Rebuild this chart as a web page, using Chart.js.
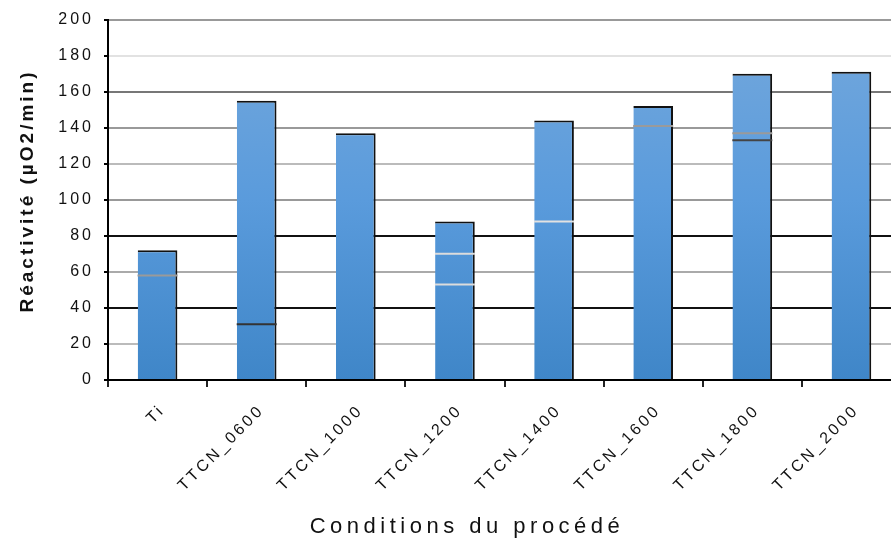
<!DOCTYPE html>
<html lang="fr">
<head>
<meta charset="utf-8">
<title>Réactivité</title>
<script src="https://cdn.jsdelivr.net/npm/chart.js@4/dist/chart.umd.min.js"></script>
<style>
    html, body { margin: 0; padding: 0; background: #fff; overflow: hidden; }
    canvas { display: block; }
</style>
</head>
<body>
<canvas id="reactChart" width="901" height="542"></canvas>
<script>
const categories = ["Ti", "TTCN_0600", "TTCN_1000", "TTCN_1200", "TTCN_1400", "TTCN_1600", "TTCN_1800", "TTCN_2000"];
const reactivite = [72, 155, 137, 88, 144, 152, 170, 171];
// petits traits horizontaux visibles dans les barres
const marksA = [58, 31, null, 70, 88, 141, 137, null];
const marksB = [null, null, null, 53, null, null, 133, null];
const yTicks = [0, 20, 40, 60, 80, 100, 120, 140, 160, 180, 200];
const xTitle = 'Conditions du procédé';
const yTitle = 'Réactivité (µO2/min)';

const gridColors = ['#000', '#bbb', '#111', '#aaa', '#111', '#999', '#bbb', '#999', '#777', '#e2e2e2', '#999'];
const marksAColors = ['#9a9a9a', '#333', '#9a9a9a', '#dcdcdc', '#e2e2e2', '#9a9a9a', '#9a9a9a', '#9a9a9a'];
const marksBColors = ['#9a9a9a', '#9a9a9a', '#9a9a9a', '#dcdcdc', '#9a9a9a', '#9a9a9a', '#444', '#9a9a9a'];

const FONT = "'Liberation Sans', Arial, sans-serif";

function barGradient(ctx) {
    const area = ctx.chart.chartArea;
    if (!area) return '#4a8fd0';
    const g = ctx.chart.ctx.createLinearGradient(0, area.top, 0, area.bottom);
    g.addColorStop(0, '#74a8dc');
    g.addColorStop(0.5, '#5a9bdc');
    g.addColorStop(1, '#3f86c8');
    return g;
}

// espacement des lettres + titres des axes (placés comme dans l'original)
const textStyle = {
    id: 'textStyle',
    beforeDraw(chart) { chart.ctx.letterSpacing = '3px'; },
    afterDraw(chart) {
        const ctx = chart.ctx;
        ctx.save();
        ctx.fillStyle = '#111';
        ctx.textAlign = 'center';
        ctx.textBaseline = 'middle';
        ctx.letterSpacing = '4.5px';
        ctx.font = '22px ' + FONT;
        ctx.fillText(xTitle, 467, 527);
        ctx.letterSpacing = '3px';
        ctx.font = 'bold 19px ' + FONT;
        ctx.translate(28, 191);
        ctx.rotate(-Math.PI / 2);
        ctx.fillText(yTitle, 0, 0);
        ctx.restore();
    }
};

new Chart(document.getElementById('reactChart'), {
    data: {
        labels: categories,
        datasets: [
            {
                type: 'line', data: marksA, showLine: false,
                pointStyle: 'line', pointRadius: 20, pointBorderWidth: 2,
                pointBorderColor: marksAColors, order: 0
            },
            {
                type: 'line', data: marksB, showLine: false,
                pointStyle: 'line', pointRadius: 20, pointBorderWidth: 2,
                pointBorderColor: marksBColors, order: 0
            },
            {
                type: 'bar', data: reactivite,
                backgroundColor: barGradient,
                borderColor: '#111',
                borderWidth: { top: 2, right: 2, left: 0, bottom: 0 },
                borderSkipped: false,
                categoryPercentage: 1, barPercentage: 0.4, order: 1
            }
        ]
    },
    options: {
        responsive: false,
        animation: false,
        layout: { autoPadding: false, padding: { top: 15, right: 0, bottom: 0, left: 0 } },
        plugins: { legend: { display: false }, tooltip: { enabled: false } },
        scales: {
            x: {
                offset: true,
                afterFit: s => { s.height = 162; },
                grid: { display: true, drawOnChartArea: false, offset: true, tickLength: 7, color: '#222', lineWidth: 2 },
                border: { color: '#000', width: 2 },
                ticks: {
                    autoSkip: false, minRotation: 45, maxRotation: 45, padding: 14, labelOffset: 5,
                    color: '#111', font: { family: FONT, size: 16 }
                }
            },
            y: {
                min: 0, max: 200,
                afterFit: s => { s.width = 108; },
                afterBuildTicks: s => { s.ticks = yTicks.map(v => ({ value: v })); },
                grid: {
                    color: c => gridColors[c.index] || '#999',
                    lineWidth: 2, tickLength: 4, tickColor: '#000', tickWidth: 2
                },
                border: { color: '#000', width: 2 },
                ticks: { padding: 10, color: '#111', font: { family: FONT, size: 16 } }
            }
        }
    },
    plugins: [textStyle]
});
</script>
</body>
</html>
